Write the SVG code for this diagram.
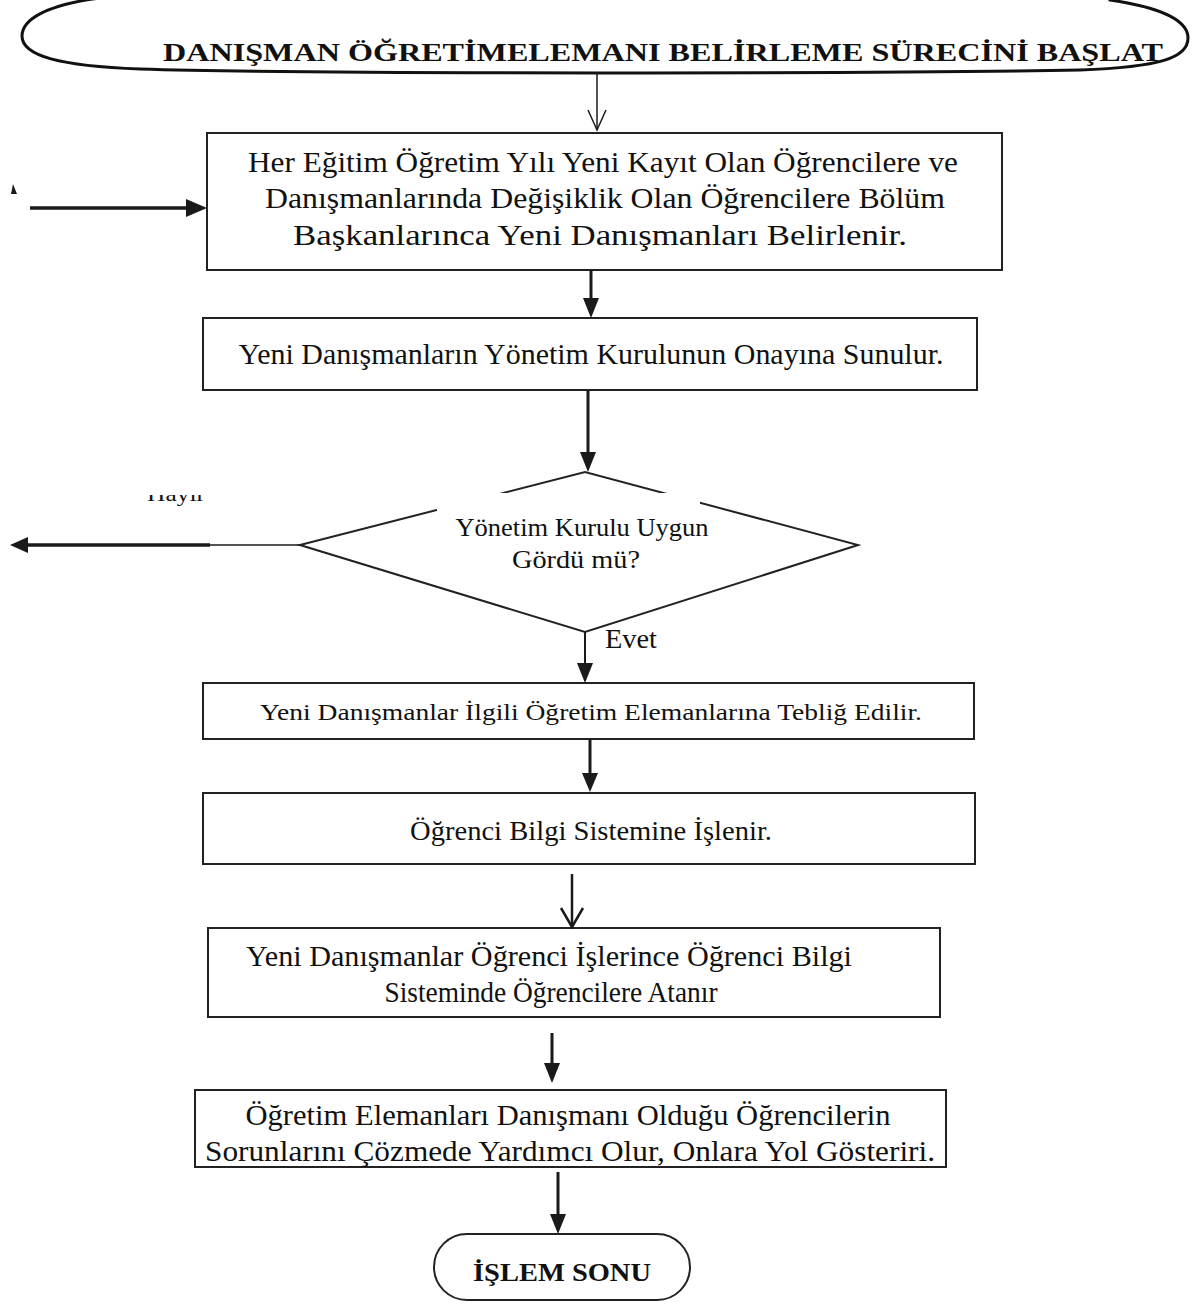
<svg xmlns="http://www.w3.org/2000/svg" width="1193" height="1312" viewBox="0 0 1193 1312">
<style>
.box{fill:#fff;stroke:#222;stroke-width:2}
.t{font-family:"Liberation Serif","Times New Roman",serif;fill:#111;text-anchor:middle}
.tb{font-family:"Liberation Serif","Times New Roman",serif;font-weight:bold;fill:#111;text-anchor:middle}
.ln{stroke:#1a1a1a;fill:none}
.hd{fill:#1a1a1a;stroke:none}
</style>
<defs>
<clipPath id="hclip"><rect x="140" y="495" width="80" height="14"/></clipPath>
</defs>
<rect width="1193" height="1312" fill="#fff"/>

<g id="start">
<path d="M100,-2 C45,5 22,20 22,36 C22,56 60,66 140,69 C300,74 900,74 1080,70 C1160,67 1188,58 1188,38 C1188,22 1165,8 1110,0 L1110,-20 L100,-20 Z" fill="#fff" stroke="#111" stroke-width="3"/>
<text class="tb" x="663" y="61" font-size="26" textLength="1000" lengthAdjust="spacingAndGlyphs">DANIŞMAN ÖĞRETİMELEMANI BELİRLEME  SÜRECİNİ BAŞLAT</text>
</g>

<g id="box1">
<rect class="box" x="207" y="133" width="795" height="137"/>
<text class="t" x="603" y="172" font-size="29" textLength="710" lengthAdjust="spacingAndGlyphs">Her Eğitim Öğretim Yılı Yeni Kayıt Olan Öğrencilere ve</text>
<text class="t" x="605" y="208" font-size="29" textLength="680" lengthAdjust="spacingAndGlyphs">Danışmanlarında Değişiklik Olan Öğrencilere Bölüm</text>
<text class="t" x="600" y="245" font-size="29" textLength="614" lengthAdjust="spacingAndGlyphs">Başkanlarınca Yeni Danışmanları Belirlenir.</text>
</g>

<g id="box2">
<rect class="box" x="203" y="318" width="774" height="72"/>
<text class="t" x="591" y="364" font-size="29" textLength="705" lengthAdjust="spacingAndGlyphs">Yeni Danışmanların Yönetim Kurulunun Onayına Sunulur.</text>
</g>

<g id="decision">
<polygon points="300,545 585,472 858,545 585,632" fill="#fff" stroke="#222" stroke-width="2"/>
<rect x="437" y="493" width="263" height="22" fill="#fff"/>
<text class="t" x="582" y="536" font-size="25" textLength="253" lengthAdjust="spacingAndGlyphs">Yönetim Kurulu Uygun</text>
<text class="t" x="576" y="568" font-size="25" textLength="128" lengthAdjust="spacingAndGlyphs">Gördü mü?</text>
</g>

<g id="box3">
<rect class="box" x="203" y="683" width="771" height="56"/>
<text class="t" x="591" y="720" font-size="24" textLength="662" lengthAdjust="spacingAndGlyphs">Yeni Danışmanlar İlgili Öğretim Elemanlarına Tebliğ Edilir.</text>
</g>

<g id="box4">
<rect class="box" x="203" y="793" width="772" height="71"/>
<text class="t" x="591" y="840" font-size="28" textLength="362" lengthAdjust="spacingAndGlyphs">Öğrenci Bilgi Sistemine İşlenir.</text>
</g>

<g id="box5">
<rect class="box" x="208" y="928" width="732" height="89"/>
<text class="t" x="549" y="966" font-size="29" textLength="606" lengthAdjust="spacingAndGlyphs">Yeni Danışmanlar Öğrenci İşlerince Öğrenci Bilgi</text>
<text class="t" x="551" y="1002" font-size="29" textLength="333" lengthAdjust="spacingAndGlyphs">Sisteminde Öğrencilere Atanır</text>
</g>

<g id="box6">
<rect class="box" x="195" y="1090" width="751" height="77"/>
<text class="t" x="568" y="1125" font-size="29" textLength="645" lengthAdjust="spacingAndGlyphs">Öğretim Elemanları Danışmanı Olduğu Öğrencilerin</text>
<text class="t" x="570" y="1161" font-size="29" textLength="730" lengthAdjust="spacingAndGlyphs">Sorunlarını Çözmede Yardımcı Olur, Onlara Yol Gösteriri.</text>
</g>

<g id="end">
<rect x="434" y="1234" width="256" height="66" rx="33" ry="33" fill="#fff" stroke="#222" stroke-width="2"/>
<text class="tb" x="562" y="1281" font-size="26" textLength="178" lengthAdjust="spacingAndGlyphs">İŞLEM SONU</text>
</g>

<g id="connectors">
<line class="ln" x1="597" y1="72" x2="597" y2="130" stroke-width="1.5"/>
<polyline class="ln" points="588,110 597,130 606,110" stroke-width="1.5"/>

<polygon class="hd" points="11,194 13,184 17,194"/>
<line class="ln" x1="30" y1="208" x2="190" y2="208" stroke-width="3.5"/>
<polygon class="hd" points="186,199 207,208 186,217"/>

<line class="ln" x1="591" y1="270" x2="591" y2="300" stroke-width="3"/>
<polygon class="hd" points="583,298 591,318 599,298"/>

<line class="ln" x1="588" y1="390" x2="588" y2="455" stroke-width="3"/>
<polygon class="hd" points="580,452 588,472 596,452"/>

<line class="ln" x1="300" y1="545" x2="210" y2="545" stroke-width="1.5"/>
<line class="ln" x1="210" y1="545" x2="25" y2="545" stroke-width="3.5"/>
<polygon class="hd" points="10,545 28,537 28,553"/>
<text class="t" x="176" y="501" font-size="22" textLength="58" lengthAdjust="spacingAndGlyphs" clip-path="url(#hclip)">Hayır</text>

<line class="ln" x1="585" y1="632" x2="585" y2="665" stroke-width="2"/>
<polygon class="hd" points="577,663 585,683 593,663"/>
<text class="t" x="631" y="648" font-size="28" textLength="52" lengthAdjust="spacingAndGlyphs">Evet</text>

<line class="ln" x1="590" y1="739" x2="590" y2="775" stroke-width="3"/>
<polygon class="hd" points="582,773 590,792 598,773"/>

<line class="ln" x1="572" y1="874" x2="572" y2="927" stroke-width="2.5"/>
<polyline class="ln" points="561,908 572,927 583,908" stroke-width="2.5"/>

<line class="ln" x1="552" y1="1033" x2="552" y2="1065" stroke-width="3"/>
<polygon class="hd" points="544,1063 552,1083 560,1063"/>

<line class="ln" x1="558" y1="1172" x2="558" y2="1215" stroke-width="3"/>
<polygon class="hd" points="550,1214 558,1234 566,1214"/>
</g>
</svg>
